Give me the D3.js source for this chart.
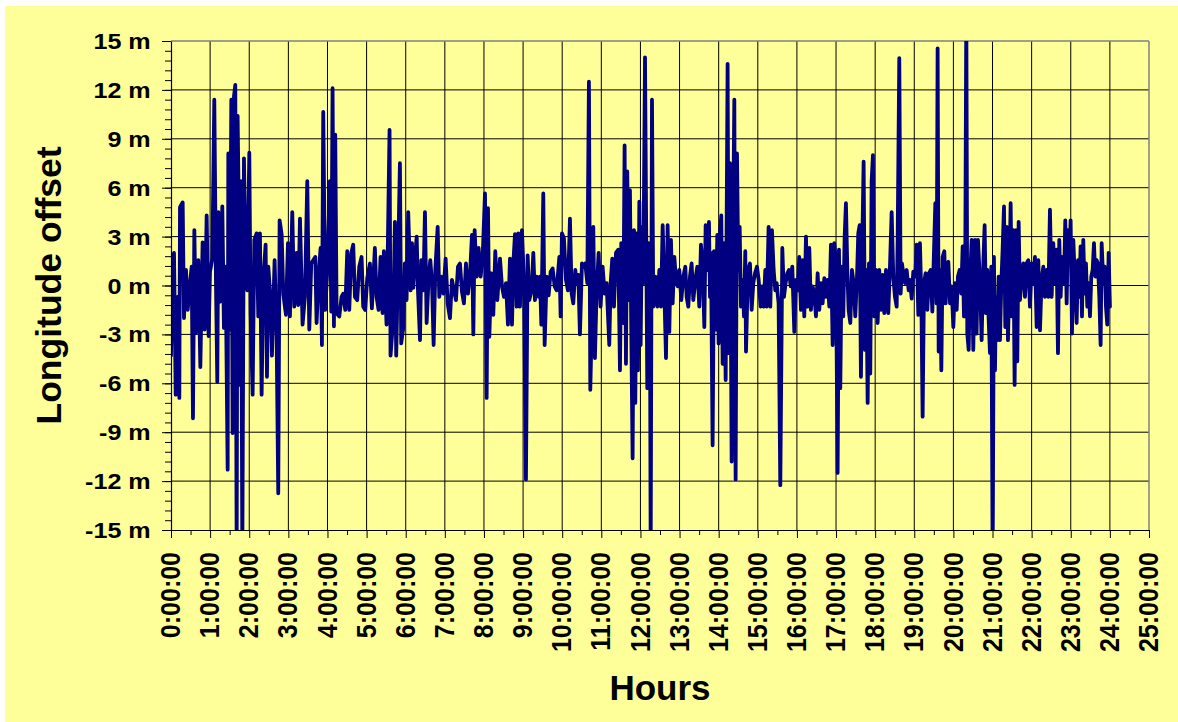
<!DOCTYPE html>
<html><head><meta charset="utf-8">
<script src="https://cdn.jsdelivr.net/npm/d3@7"></script>
<style>
html,body{margin:0;padding:0;background:#fff;}
svg{display:block;}
text{font-family:"Liberation Sans",Arial,Helvetica,sans-serif;font-weight:bold;fill:#000;}
</style></head>
<body><svg id="chart" width="1178" height="722"></svg>
<script>
// ---- data: [minutes after 0:00, longitude offset in metres] ----
const offsets00to06 = [[0,-4.3],[2,0.85],[4.6,2.0],[7.2,-6.7],[10,-0.7],[12.8,-6.9],[13.8,4.8],[17.9,5.1],[19.9,-2.0],[23,0.95],[25.6,-1.5],[29,0.1],[31.7,1.15],[33.7,-8.15],[35.8,3.4],[38.3,-2.9],[41.9,1.55],[45,-5.0],[48.5,2.65],[51.6,-2.7],[54.7,4.3],[57.7,-3.1],[59.8,0.85],[63.4,1.65],[66.4,11.4],[69,0.1],[71,-5.9],[72.6,4.5],[75.1,-1.0],[78.7,4.85],[81.2,-2.6],[83.8,1.15],[86.9,-11.3],[87.9,8.1],[90.4,-2.7],[92.5,11.4],[94.5,-9.05],[96.6,11.6],[98.6,12.3],[100.7,-16.5],[102.2,10.4],[103.7,5.45],[105.8,-6.1],[107.3,6.4],[109.4,-16.5],[111.9,7.8],[114,2.4],[117,-0.3],[120.1,8.15],[122.1,-1.7],[125.2,-6.7],[127.8,2.8],[131.3,3.2],[133.9,-1.9],[136.4,3.2],[139,-6.7],[141.5,0.35],[145.1,2.5],[147.2,-5.6],[149.2,1.15],[152.8,-0.9],[154.8,-4.3],[158.9,1.55],[162,-3.1],[164.5,-12.75],[166.6,4.0],[169.7,3.15],[172.2,-0.5],[176.3,-1.8],[179.4,2.6],[182.4,-1.9],[186,4.5],[189.1,-1.3],[192.6,2.0],[195.2,-1.2],[197.8,4.1],[201.8,-2.4],[205.4,-0.7],[209,6.4],[212.1,-2.7],[215.1,1.35],[218.2,1.55],[221.3,1.75],[223.3,-2.3],[226.4,0.55],[229.4,2.3],[231.5,-3.65],[233.5,10.65],[236.6,-1.5],[239.7,0.95],[243.7,6.4],[245.8,-1.6],[247.8,12.1],[249.9,-2.5],[251.9,9.25],[254,-1.7],[258.1,-1.9],[261.6,-0.7],[264.2,-0.5],[267.3,-1.5],[270.3,2.1],[273.4,-1.5],[276.5,2.0],[279.5,2.5],[282.1,-0.7],[285.6,-0.9],[288.7,1.15],[292.3,1.75],[294.8,-1.3],[297.9,-1.5],[301,0.45],[305.1,1.35],[308.1,-1.4],[312.7,2.3],[315.3,-0.7],[318.4,-1.5],[321.4,1.75],[324.5,-1.7],[326.5,2.1],[330.6,-2.4],[332.7,2.8],[335.2,9.55],[336.7,-4.3],[340.8,-2.1],[343.4,3.9],[345.4,-4.3],[348.5,2.0],[351.1,7.5],[353.1,-3.55],[356.2,-2.6],[358.7,1.35],[361.3,-0.9],[363.8,4.5]];

const offsets06to12 = [[367.6,-0.3],[369.6,2.6],[371.6,-0.15],[373.7,1.35],[376.8,3.0],[378.8,-0.3],[381.9,-3.35],[383.9,1.55],[387,-0.3],[389.5,4.5],[392.1,-2.3],[395.2,0.55],[397.7,1.55],[400.3,0.15],[402.8,-3.65],[405.4,0.95],[409,3.6],[411.5,-0.7],[414.6,0.55],[417.7,-0.5],[421.2,1.65],[424.3,-1.1],[427.9,-2.0],[430.9,0.35],[434,-0.3],[437.1,-0.9],[440.1,1.15],[443.2,1.35],[446.3,-0.4],[449.3,-1.1],[452.4,1.35],[455.5,-0.5],[458.6,0.65],[461.6,3.1],[463.7,-3.0],[465.7,3.4],[468.8,0.55],[471.8,2.3],[474.9,0.55],[478,1.75],[481.6,5.65],[484.1,-6.9],[486.2,4.75],[488.2,-3.15],[491.3,0.75],[494.3,-1.8],[497.4,2.1],[500.5,-0.9],[504.6,1.65],[507.6,-0.05],[510.7,-0.7],[513.8,0.15],[516.8,-2.4],[519.9,1.65],[523,-2.4],[525,1.35],[527.6,3.15],[530.1,-1.3],[532.7,3.2],[535.2,-1.3],[538.3,3.4],[541.4,0.15],[544.4,-11.9],[547,1.85],[549.5,-0.9],[553.1,-0.3],[555.7,2.0],[558.2,-0.9],[560.8,0.55],[563.9,-0.7],[565.9,0.55],[568,-2.4],[571,5.65],[573.1,-3.65],[576.1,0.55],[579.2,-0.6],[582.3,0.85],[585.3,1.05],[588.4,-0.05],[591.5,-0.3],[595.6,1.75],[597.6,-1.9],[599.6,3.2],[602.7,2.9],[605.8,0.35],[608.8,-0.3],[611.9,4.1],[614.5,-0.5],[617,-1.1],[620.1,0.95],[622.1,0.15],[624.7,0.65],[627.2,-3.0],[630.3,1.35],[633.4,1.15],[635.4,1.35],[638.5,0.15],[641,12.5],[643.1,-6.4],[645.6,-1.9],[647.7,3.6],[650.2,-4.45],[652.8,-0.3],[655.9,2.0],[658.9,-1.3],[662,1.15],[665.1,-0.5],[668.1,0.15],[672.2,-3.65],[674.3,0.15],[676.8,1.65],[679.4,-1.3],[682.5,2.0],[686,2.2],[688.6,-5.2],[690.6,2.6],[693.7,-2.3],[695.7,8.6],[697.8,-4.8],[699.8,7.0],[701.9,-0.9],[703.9,5.85],[706,-2.95],[708,-10.6],[710.1,3.4],[712.1,-7.2],[714.2,3.2],[716.2,-5.2],[718.3,5.15],[720.3,-3.65],[722.3,3.6],[724.4,0.15],[727,14.0],[730.5,-6.3],[732.6,2.6]];

const offsets12to18 = [[734.6,-1.1],[735.7,-16.5],[737.7,11.4],[739.7,-1.3],[742.8,0.55],[745.9,-1.3],[749,0.95],[751.5,-1.3],[754.1,3.7],[756.1,0.55],[759.2,-4.45],[761.7,3.7],[764.3,-2.85],[766.8,2.8],[769.4,-1.1],[772,1.75],[774.5,0.35],[777.1,-0.05],[779.6,0.95],[782.7,-0.9],[785.8,0.55],[788.8,1.15],[790.9,-0.7],[793.4,-1.3],[796,0.55],[798.5,1.35],[801.1,-0.9],[804.2,0.35],[807.2,1.15],[810.3,-1.3],[812.8,2.5],[815.4,1.35],[818,-2.55],[820,3.7],[822.6,0.95],[825.1,3.9],[826.7,-0.7],[828.2,2.0],[830.7,-9.8],[832.8,2.1],[835.3,-2.7],[837.9,3.1],[839.9,-3.55],[842,3.2],[844,4.3],[846.1,-4.8],[848.1,2.6],[850.7,-5.8],[852.2,3.7],[853.7,13.6],[855.3,-4.15],[857.3,7.5],[859.9,-10.8],[861.9,2.6],[864,11.4],[866,-11.9],[868.1,8.1],[870.1,0.95],[872.2,3.6],[874.2,-1.3],[876.8,0.35],[878.8,-1.9],[880.8,2.1],[881.9,-4.05],[884.9,0.95],[888,1.35],[890.6,-1.5],[893.1,0.15],[895.7,0.75],[898.7,1.15],[901.3,0.35],[904.4,-1.3],[906.4,-0.05],[909,-1.3],[911.5,0.95],[913.6,-1.3],[916.6,3.6],[919.2,-1.3],[921.7,3.4],[924.3,0.95],[926.8,-0.3],[928.9,0.15],[931.9,-1.1],[934.5,-12.25],[937.6,2.3],[940.1,-0.7],[942.7,0.15],[945.2,0.75],[947.8,0.95],[950.4,-0.05],[952.9,1.15],[956,-2.85],[958.5,0.35],[961.1,-0.3],[963.6,1.75],[966.2,-1.5],[968.8,1.55],[971.3,-1.9],[973.9,3.0],[976.4,-1.3],[979,2.3],[981.5,-1.5],[984.1,-0.05],[986.7,-0.5],[989.2,-1.9],[991.8,0.75],[994.3,-1.5],[996.9,0.15],[999.4,-1.1],[1002,0.45],[1004.5,-0.7],[1007.1,0.35],[1009.7,-1.3],[1012.2,2.5],[1014.8,-3.65],[1017.3,2.6],[1019.9,1.35],[1022.4,-11.5],[1024.5,2.2],[1026.5,-6.3],[1028.6,1.15],[1031.1,-1.9],[1033.2,3.0],[1035.2,5.05],[1037.3,0.95],[1039.3,-1.5],[1041.9,-2.3],[1044.4,0.95],[1047,0.15],[1049.5,-1.9],[1052.1,0.45],[1054.1,3.2],[1056.2,3.7],[1058.2,-5.6],[1060.3,2.6],[1062.3,7.6],[1064.4,-3.95],[1066.4,0.95],[1068.5,-7.2],[1070.5,1.35],[1072.5,-5.4],[1074.6,6.4],[1076.6,8.0],[1078.7,-1.9],[1081.2,0.95],[1083.8,-2.3],[1086.3,0.95],[1088.9,-1.5],[1091.4,0.65],[1094,-1.7],[1096.6,0.95],[1100.1,-1.7]];

const offsets18to24 = [[1102.7,1.15],[1105.3,4.5],[1107.8,0.55],[1110.4,-0.7],[1113,-1.3],[1114.5,2.8],[1117,13.95],[1119.1,-0.5],[1121.1,1.35],[1123.2,0.75],[1125.7,0.15],[1128.3,0.95],[1131.4,-0.3],[1133.4,0.35],[1136,-0.8],[1138.5,0.85],[1141.6,0.55],[1143.6,2.5],[1146.2,-1.8],[1148.7,2.6],[1150.8,-0.7],[1152.8,-8.05],[1154.9,0.15],[1157.4,0.75],[1160,-1.5],[1162.5,0.75],[1165.1,0.95],[1167.7,-1.6],[1170.2,2.1],[1172.3,5.05],[1174.3,-1.1],[1175.8,14.55],[1177.4,-4.05],[1179.4,0.95],[1181.5,-5.2],[1183.5,1.75],[1186.1,2.1],[1188.1,-1.1],[1190.2,1.35],[1192.2,1.45],[1194.8,-1.1],[1197.3,-0.05],[1199.9,-2.55],[1202.4,0.15],[1205,-1.5],[1207,0.55],[1209.6,0.95],[1212.1,-0.5],[1214.2,2.4],[1216.2,-1.9],[1218.3,2.6],[1219.8,17.0],[1221.3,-2.95],[1223.4,-3.95],[1225.4,0.15],[1228,2.8],[1230.5,-3.95],[1233.1,2.8],[1235.6,-2.95],[1237.7,2.8],[1240.8,0.15],[1243.3,-3.35],[1245.9,1.35],[1247.9,3.7],[1250,-1.7],[1252,0.95],[1254.1,-2.1],[1256.1,-4.15],[1258.1,1.15],[1260.2,-17.0],[1262.2,1.75],[1263.8,-5.2],[1265.3,-0.7],[1267.3,-3.35],[1269.4,0.55],[1271.4,-3.35],[1273.5,0.15],[1275.5,2.2],[1277.6,4.85],[1279.6,-2.55],[1281.7,3.6],[1283.7,-3.35],[1285.7,0.15],[1287.8,5.05],[1289.8,-1.9],[1291.9,3.4],[1293.9,-6.1],[1296,3.4],[1298,-4.65],[1300.1,3.9],[1302.1,-0.9],[1304.7,0.55],[1307.2,1.35],[1309.8,-0.7],[1312.3,1.35],[1314.9,1.55],[1317.4,-1.3],[1320,1.35],[1322.6,0.15],[1325.1,1.75],[1327.7,-2.55],[1330.2,1.55],[1332.8,-2.75],[1335.3,0.35],[1337.9,1.15],[1340.4,-0.7],[1343,0.95],[1345.6,-0.7],[1348.1,4.65],[1350.7,-0.7],[1353.2,2.6],[1355.8,0.15],[1358.3,2.2],[1360.4,-4.15],[1362.4,2.8],[1364.5,-0.7],[1366.5,1.75],[1369.6,0.15],[1371.6,4.0],[1373.7,-1.1],[1375.7,3.4],[1377.8,1.55],[1379.8,4.0],[1381.9,-2.95],[1383.9,2.8],[1387,-0.3],[1389,-2.3],[1391.1,1.55],[1393.1,-0.7],[1395.1,2.4],[1397.2,-1.9],[1399.2,2.8],[1401.3,-0.5],[1403.3,1.35],[1405.4,-1.3],[1407.4,0.15],[1409.5,-1.9],[1411.5,0.55],[1413.6,0.95],[1415.6,2.6],[1417.6,0.55],[1419.7,1.55],[1421.7,1.35],[1423.8,-0.7],[1425.8,-3.65],[1427.4,2.6],[1429.9,0.15],[1432,1.15],[1434,-1.3],[1436,-2.4],[1438.1,2.0],[1440.1,-1.3]];

const xTickLabels = ["0:00:00","1:00:00","2:00:00","3:00:00","4:00:00","5:00:00","6:00:00","7:00:00","8:00:00","9:00:00","10:00:00","11:00:00","12:00:00","13:00:00","14:00:00","15:00:00","16:00:00","17:00:00","18:00:00","19:00:00","20:00:00","21:00:00","22:00:00","23:00:00","24:00:00","25:00:00"];
const yTickValues = [-15,-12,-9,-6,-3,0,3,6,9,12,15];
const yTickLabels = ["-15 m","-12 m","-9 m","-6 m","-3 m","0 m","3 m","6 m","9 m","12 m","15 m"];
const xTitle = "Hours";
const yTitle = "Longitude offset";

// ---- layout ----
const W = 1178, H = 722;
const plot = {left: 171, right: 1149, top: 41, bottom: 530};
const svg = d3.select("#chart");

svg.append("rect").attr("x",0).attr("y",0).attr("width",W).attr("height",H).attr("fill","#ffffff");
svg.append("rect").attr("x",5).attr("y",6).attr("width",W-5).attr("height",H-6).attr("fill","#FFFF99");

const x = d3.scaleLinear().domain([0,25]).range([plot.left, plot.right]);
const y = d3.scaleLinear().domain([-15,15]).range([plot.bottom, plot.top]);

// gridlines
const g = svg.append("g");
g.selectAll("line.vg").data(d3.range(1,25)).join("line")
  .attr("x1", d => x(d)).attr("x2", d => x(d))
  .attr("y1", plot.top).attr("y2", plot.bottom)
  .attr("stroke","#000").attr("stroke-width",1);
g.selectAll("line.hg").data(yTickValues.filter(v => v>-15 && v<15)).join("line")
  .attr("x1", plot.left).attr("x2", plot.right)
  .attr("y1", d => y(d)).attr("y2", d => y(d))
  .attr("stroke","#000").attr("stroke-width",1);
// grey top/right frame
svg.append("line").attr("x1",plot.left).attr("x2",plot.right).attr("y1",plot.top).attr("y2",plot.top).attr("stroke","#808080").attr("stroke-width",1.5);
svg.append("line").attr("x1",plot.right).attr("x2",plot.right).attr("y1",plot.top).attr("y2",plot.bottom).attr("stroke","#808080").attr("stroke-width",1.5);

// data line
const data = [...offsets00to06, ...offsets06to12, ...offsets12to18, ...offsets18to24];
svg.append("clipPath").attr("id","clip").append("rect")
  .attr("x",plot.left).attr("y",plot.top).attr("width",plot.right-plot.left).attr("height",plot.bottom-plot.top);
const line = d3.line().x(d => x(d[0]/60)).y(d => y(d[1]));
svg.append("path").datum(data)
  .attr("clip-path","url(#clip)")
  .attr("d", line)
  .attr("fill","none").attr("stroke","#000080")
  .attr("stroke-width",3.8).attr("stroke-linejoin","round").attr("stroke-linecap","round");

// minor ticks
svg.append("g").attr("transform",`translate(${plot.left},0)`)
  .call(d3.axisLeft(y).tickValues(d3.range(-15,15.01,0.6)).tickSize(6).tickSizeOuter(0).tickFormat(""))
  .call(s => s.select(".domain").remove());
svg.append("g").attr("transform",`translate(0,${plot.bottom})`)
  .call(d3.axisBottom(x).tickValues(d3.range(0.5,25,1)).tickSize(5).tickSizeOuter(0).tickFormat(""))
  .call(s => s.select(".domain").remove());

// y axis
const yAxis = svg.append("g").attr("transform",`translate(${plot.left},0)`)
  .call(d3.axisLeft(y).tickValues(yTickValues).tickSize(9).tickSizeOuter(0)
        .tickFormat((d,i) => yTickLabels[i]));
yAxis.selectAll("text")
  .attr("x",0).attr("y",0).attr("dy",null)
  .attr("text-anchor","end")
  .attr("transform","translate(-20.3,7.5) scale(1.17,1)")
  .style("font-size","21.5px");

// x axis
const xAxis = svg.append("g").attr("transform",`translate(0,${plot.bottom})`)
  .call(d3.axisBottom(x).tickValues(d3.range(0,26)).tickSize(8).tickSizeOuter(0)
        .tickFormat((d,i) => xTickLabels[i]));
xAxis.selectAll("text")
  .attr("x",0).attr("y",0).attr("dy",null)
  .attr("text-anchor","end")
  .attr("transform","translate(8.6,22) scale(1.12,1) rotate(-90)")
  .style("font-size","25px");
svg.selectAll(".domain").attr("stroke","#000").attr("stroke-width",1.2);
svg.selectAll(".tick line").attr("stroke","#000");

// titles
svg.append("text").attr("x",(plot.left+plot.right)/2).attr("y",700)
  .attr("text-anchor","middle").style("font-size","35px").text(xTitle);
svg.append("text").attr("transform",`translate(61,${(plot.top+plot.bottom)/2}) rotate(-90)`)
  .attr("text-anchor","middle").style("font-size","35.5px").text(yTitle);
</script>
</body></html>
